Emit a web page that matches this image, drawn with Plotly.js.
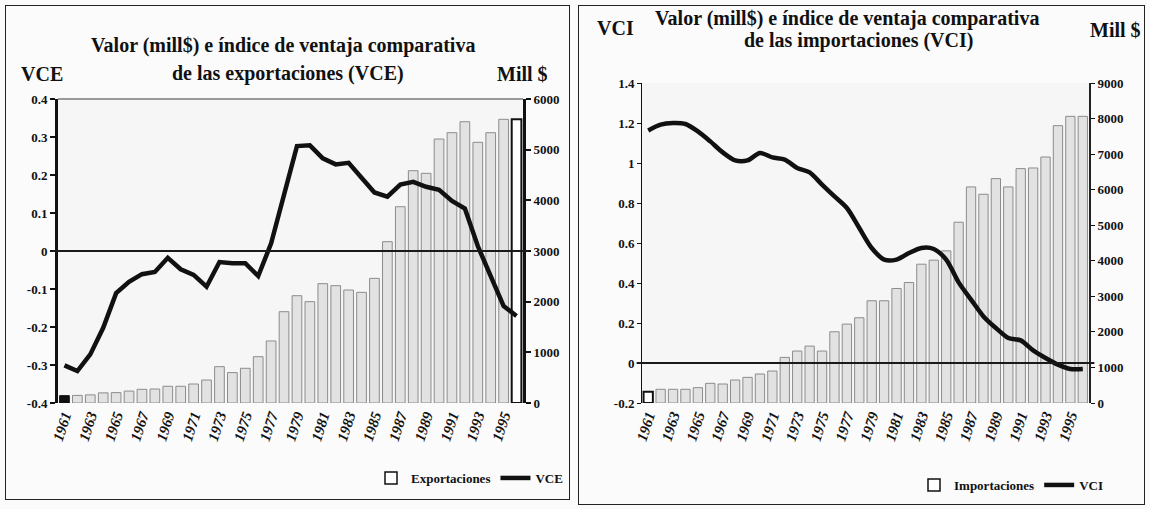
<!DOCTYPE html>
<html>
<head>
<meta charset="utf-8">
<script src="https://cdn.plot.ly/plotly-3.0.1.min.js"></script>
<style>
  body { margin: 0; background: #fbfbfb; }
  #wrap { position: relative; width: 1150px; height: 509px; overflow: hidden; }
  .panel { position: absolute; top: 0; width: 575px; height: 509px; }
  #gdE { left: 0; }
  #gdI { left: 575px; }
  .frame { position: absolute; border: 1px solid #222; pointer-events: none; }
</style>
</head>
<body>
<div id="wrap">
  <div id="gdE" class="panel"></div>
  <div id="gdI" class="panel"></div>
  <div class="frame" style="left:5px;top:5px;width:563px;height:493px"></div>
  <div class="frame" style="left:578px;top:5px;width:565px;height:498px"></div>
</div>
<script>
let years = [1961, 1962, 1963, 1964, 1965, 1966, 1967, 1968, 1969, 1970, 1971, 1972,
  1973, 1974, 1975, 1976, 1977, 1978, 1979, 1980, 1981, 1982, 1983, 1984,
  1985, 1986, 1987, 1988, 1989, 1990, 1991, 1992, 1993, 1994, 1995, 1996];

let yearTicks = [1961, 1963, 1965, 1967, 1969, 1971, 1973, 1975, 1977,
  1979, 1981, 1983, 1985, 1987, 1989, 1991, 1993, 1995];
let yearLabels = ['1961', '1963', '1965', '1967', '1969', '1971', '1973', '1975', '1977',
  '1979', '1981', '1983', '1985', '1987', '1989', '1991', '1993', '1995'];

// exportaciones, mill $
let exportaciones = [145, 150, 160, 200, 205, 235, 270, 276, 330, 330, 375, 454,
  717, 600, 685, 914, 1224, 1802, 2118, 2000, 2355, 2316, 2230, 2184,
  2460, 3184, 3874, 4585, 4533, 5210, 5335, 5552, 5145, 5335, 5599, 5599];

let vce = [-0.301, -0.316, -0.272, -0.202, -0.111, -0.081, -0.061, -0.055, -0.018, -0.048, -0.063, -0.094,
  -0.029, -0.032, -0.032, -0.066, 0.02, 0.15, 0.276, 0.278, 0.244, 0.228, 0.232, 0.193,
  0.154, 0.143, 0.175, 0.182, 0.169, 0.161, 0.132, 0.112, 0.013, -0.066, -0.145, -0.171];

// importaciones, mill $
let importaciones = [317, 385, 385, 385, 431, 553, 534, 646, 721, 815, 899, 1283,
  1461, 1601, 1461, 2003, 2219, 2397, 2875, 2875, 3221, 3389, 3904, 4017,
  4279, 5084, 6077, 5871, 6311, 6077, 6592, 6610, 6919, 7800, 8062, 8062];

let vci = [1.163, 1.192, 1.2, 1.195, 1.158, 1.108, 1.053, 1.013, 1.013, 1.05, 1.028, 1.017,
  0.975, 0.953, 0.892, 0.833, 0.775, 0.675, 0.575, 0.517, 0.517, 0.55, 0.575, 0.57,
  0.517, 0.403, 0.317, 0.233, 0.175, 0.125, 0.113, 0.063, 0.025, -0.008, -0.03, -0.03];

let vceTicks = [-0.4, -0.3, -0.2, -0.1, 0, 0.1, 0.2, 0.3, 0.4];
let vceLabels = ['-0.4', '-0.3', '-0.2', '-0.1', '0', '0.1', '0.2', '0.3', '0.4'];
let vciTicks = [-0.2, 0, 0.2, 0.4, 0.6, 0.8, 1, 1.2, 1.4];
let vciLabels = ['-0.2', '0', '0.2', '0.4', '0.6', '0.8', '1', '1.2', '1.4'];
let millExpTicks = [0, 1000, 2000, 3000, 4000, 5000, 6000];
let millImpTicks = [0, 1000, 2000, 3000, 4000, 5000, 6000, 7000, 8000, 9000];

let serif = '"Liberation Serif", "Times New Roman", serif';
let W = 575, H = 509;

function bold(size) {
  return {family: serif, size: size, color: '#111', weight: 700};
}

// annotation placed at a pixel position of the panel
function label(m, text, px, py, size) {
  let w = W - m.l - m.r, h = H - m.t - m.b;
  return {
    text: '<b>' + text + '</b>', xref: 'paper', yref: 'paper',
    x: (px - m.l) / w, y: 1 - (py - m.t) / h,
    xanchor: 'center', yanchor: 'middle', showarrow: false,
    font: bold(size)
  };
}

// zero line of the index axis, kept above the bars
function zeroLine() {
  return {
    type: 'line', layer: 'above', xref: 'paper', yref: 'y2',
    x0: -0.012, x1: 1.012, y0: 0, y1: 0,
    line: {color: '#1a1a1a', width: 2}
  };
}

function xaxis() {
  return {
    range: [1960.5, 1996.5], autorange: false,
    tickvals: yearTicks, ticktext: yearLabels.map(t => '<b><i>' + t + '</i></b>'), tickangle: -72,
    showgrid: false, zeroline: false, showline: false, ticks: '',
    tickfont: bold(15)
  };
}

// ---------- exportaciones ----------
let mE = {l: 58, r: 52, t: 99, b: 106};
let lastE = exportaciones.length - 1;

let expBars = {
  x: years, y: exportaciones, type: 'bar', width: 0.75, yaxis: 'y',
  showlegend: false, hoverinfo: 'x+y',
  marker: {
    color: exportaciones.map((v, i) => i === 0 ? '#111' : (i === lastE ? '#ffffff' : '#e2e2e2')),
    line: {
      color: exportaciones.map((v, i) => (i === 0 || i === lastE) ? '#111' : '#8c8c8c'),
      width: exportaciones.map((v, i) => i === lastE ? 2 : 1)
    }
  }
};
let expKey = {
  x: [null], y: [null], type: 'bar', name: '<b>Exportaciones</b>', yaxis: 'y',
  marker: {color: '#ffffff', line: {color: '#111', width: 1.5}}
};
let vceLine = {
  x: years, y: vce, mode: 'lines', name: '<b>VCE</b>', yaxis: 'y2',
  line: {color: '#111', width: 4.5}
};

let layoutE = {
  width: W, height: H, margin: mE,
  paper_bgcolor: 'rgba(0,0,0,0)', plot_bgcolor: '#f6f6f6',
  barmode: 'overlay',
  xaxis: xaxis(),
  yaxis: {
    side: 'right', range: [0, 6000], autorange: false,
    tickvals: millExpTicks, ticktext: millExpTicks.map(t => '<b>' + t + '</b>'),
    showgrid: false, zeroline: false,
    showline: true, linewidth: 3, linecolor: '#111',
    ticks: 'outside', ticklen: 5, tickwidth: 2, tickcolor: '#111',
    tickfont: bold(13)
  },
  yaxis2: {
    overlaying: 'y', side: 'left', range: [-0.4, 0.4], autorange: false,
    tickvals: vceTicks, ticktext: vceLabels.map(t => '<b>' + t + '</b>'), showgrid: false,
    zeroline: false,
    showline: true, linewidth: 3, linecolor: '#111',
    ticks: 'outside', ticklen: 5, tickwidth: 2, tickcolor: '#111',
    tickfont: bold(13)
  },
  shapes: [{
    type: 'line', xref: 'paper', yref: 'paper', x0: 0, x1: 1, y0: 1, y1: 1,
    line: {color: '#9a9a9a', width: 2}
  }, zeroLine()],
  annotations: [
    label(mE, 'Valor (mill$) e índice de ventaja comparativa', 283, 45, 20),
    label(mE, 'de las exportaciones (VCE)', 288, 73, 20),
    label(mE, 'VCE', 42, 74, 20),
    label(mE, 'Mill $', 522, 74, 20)
  ],
  legend: {
    orientation: 'h', xref: 'container', yref: 'container',
    x: 568 / W, xanchor: 'right', y: 1 - 478 / H, yanchor: 'middle',
    bgcolor: 'rgba(0,0,0,0)', itemwidth: 30,
    font: bold(13)
  }
};

// ---------- importaciones ----------
let mI = {l: 67, r: 61, t: 83, b: 106};

let impBars = {
  x: years, y: importaciones, type: 'bar', width: 0.75, yaxis: 'y',
  showlegend: false, hoverinfo: 'x+y',
  marker: {
    color: importaciones.map((v, i) => i === 0 ? '#ffffff' : '#e2e2e2'),
    line: {
      color: importaciones.map((v, i) => i === 0 ? '#111' : '#8c8c8c'),
      width: importaciones.map((v, i) => i === 0 ? 2 : 1)
    }
  }
};
let impKey = {
  x: [null], y: [null], type: 'bar', name: '<b>Importaciones</b>', yaxis: 'y',
  marker: {color: '#ffffff', line: {color: '#111', width: 1.5}}
};
let vciLine = {
  x: years, y: vci, mode: 'lines', name: '<b>VCI</b>', yaxis: 'y2',
  line: {color: '#111', width: 4.5, shape: 'spline', smoothing: 0.8}
};

let layoutI = {
  width: W, height: H, margin: mI,
  paper_bgcolor: 'rgba(0,0,0,0)', plot_bgcolor: '#f6f6f6',
  barmode: 'overlay',
  xaxis: xaxis(),
  yaxis: {
    side: 'right', range: [0, 9000], autorange: false,
    tickvals: millImpTicks, ticktext: millImpTicks.map(t => '<b>' + t + '</b>'),
    showgrid: false, zeroline: false,
    showline: true, linewidth: 2, linecolor: '#222',
    ticks: 'outside', ticklen: 4, tickwidth: 1, tickcolor: '#111',
    tickfont: bold(13)
  },
  yaxis2: {
    overlaying: 'y', side: 'left', range: [-0.2, 1.4], autorange: false,
    tickvals: vciTicks, ticktext: vciLabels.map(t => '<b>' + t + '</b>'), showgrid: false,
    zeroline: false,
    showline: true, linewidth: 1, linecolor: '#111',
    ticks: 'outside', ticklen: 4, tickwidth: 1, tickcolor: '#111',
    tickfont: bold(13)
  },
  shapes: [zeroLine()],
  annotations: [
    label(mI, 'Valor (mill$) e índice de ventaja comparativa', 272, 18, 20),
    label(mI, 'de las importaciones (VCI)', 283, 41, 20),
    label(mI, 'VCI', 40, 28, 20),
    label(mI, 'Mill $', 540, 30, 20)
  ],
  legend: {
    orientation: 'h', xref: 'container', yref: 'container',
    x: 534 / W, xanchor: 'right', y: 1 - 485 / H, yanchor: 'middle',
    bgcolor: 'rgba(0,0,0,0)', itemwidth: 30,
    font: bold(13)
  }
};

Plotly.newPlot('gdE', [expBars, expKey, vceLine], layoutE, {staticPlot: true});
Plotly.newPlot('gdI', [impBars, impKey, vciLine], layoutI, {staticPlot: true});
</script>
</body>
</html>
